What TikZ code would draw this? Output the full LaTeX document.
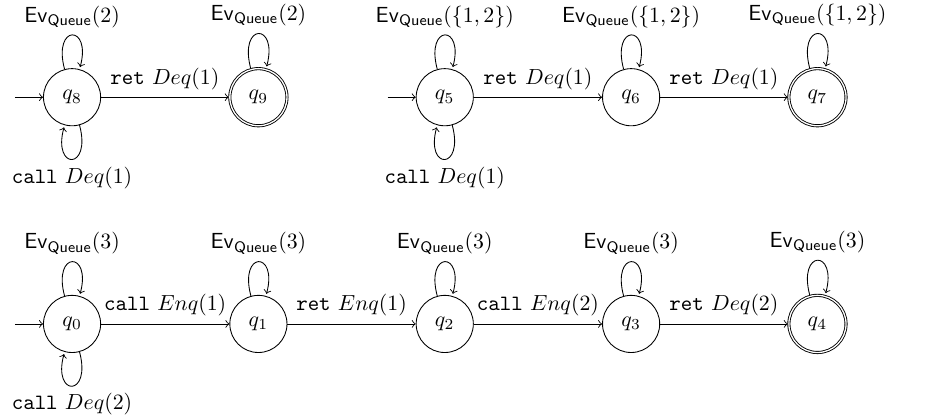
\documentclass[tikz,border=0pt]{standalone}
\usepackage{amsmath,amssymb}
\usetikzlibrary{automata,arrows.meta,positioning}
\newcommand{\evq}[1]{\ensuremath{\mathsf{Ev}_{\mathsf{Queue}}(#1)}}
\newcommand{\callop}[1]{\ensuremath{\mathtt{call}\ #1}}
\newcommand{\retop}[1]{\ensuremath{\mathtt{ret}\ #1}}
\tikzset{
  qstate/.style={state, minimum size=0.92cm, inner sep=1pt},
  lab/.style={font=\normalsize},
}

\begin{document}
\begin{tikzpicture}[>=to, initial text={}, node distance=3cm]
    \useasboundingbox (-1.16,1.565) rectangle (14.15,-5.19);
    % top row, two automata
    \node[qstate, initial] (q8) at (0,0) {$q_8$};
    \node[qstate, accepting] (q9) at (3,0) {$q_9$};
    \node[qstate, initial] (q5) at (6,0) {$q_5$};
    \node[qstate] (q6) at (9,0) {$q_6$};
    \node[qstate, accepting] (q7) at (12,0) {$q_7$};
    % bottom row
    \node[qstate, initial] (q0) at (0,-3.65) {$q_0$};
    \node[qstate] (q1) at (3,-3.65) {$q_1$};
    \node[qstate] (q2) at (6,-3.65) {$q_2$};
    \node[qstate] (q3) at (9,-3.65) {$q_3$};
    \node[qstate, accepting] (q4) at (12,-3.65) {$q_4$};
    \path[->] (q8) edge[loop above] node[lab] {\evq{2}} ()
                   edge[loop below] node[lab] {\callop{Deq(1)}} ()
                   edge node[lab, above] {\retop{Deq(1)}} (q9)
              (q9) edge[loop above] node[lab] {\evq{2}} ();
    \path[->] (q5) edge[loop above] node[lab] {\evq{\{1,2\}}} ()
                   edge[loop below] node[lab] {\callop{Deq(1)}} ()
                   edge node[lab, above] {\retop{Deq(1)}} (q6)
              (q6) edge[loop above] node[lab] {\evq{\{1,2\}}} ()
                   edge node[lab, above] {\retop{Deq(1)}} (q7)
              (q7) edge[loop above] node[lab] {\evq{\{1,2\}}} ();
    \path[->] (q0) edge[loop above] node[lab] {\evq{3}} ()
                   edge[loop below] node[lab] {\callop{Deq(2)}} ()
                   edge node[lab, above] {\callop{Enq(1)}} (q1)
              (q1) edge[loop above] node[lab] {\evq{3}} ()
                   edge node[lab, above] {\retop{Enq(1)}} (q2)
              (q2) edge[loop above] node[lab] {\evq{3}} ()
                   edge node[lab, above] {\callop{Enq(2)}} (q3)
              (q3) edge[loop above] node[lab] {\evq{3}} ()
                   edge node[lab, above] {\retop{Deq(2)}} (q4)
              (q4) edge[loop above] node[lab] {\evq{3}} ();
  \end{tikzpicture}
\end{document}
